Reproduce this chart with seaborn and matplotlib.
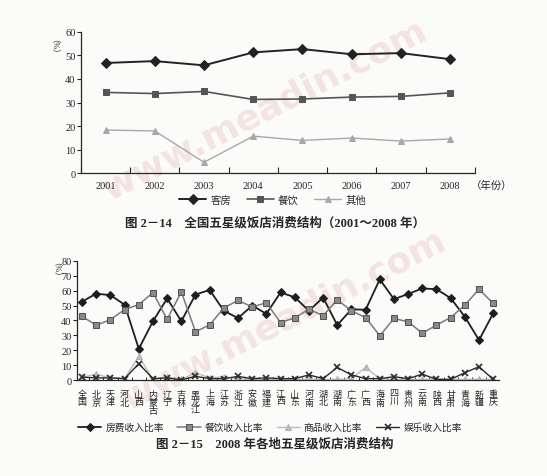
import numpy as np
import matplotlib
matplotlib.use("Agg")
import matplotlib.pyplot as plt
import seaborn as sns

# ---- 图 2-14 数据 ----
years = ["2001", "2002", "2003", "2004", "2005", "2006", "2007", "2008"]
kefang = [46.8, 47.6, 45.8, 51.3, 52.7, 50.5, 51.0, 48.4]
canyin = [34.3, 33.8, 34.7, 31.3, 31.5, 32.3, 32.6, 34.1]
qita = [18.3, 17.9, 4.6, 15.7, 13.9, 14.9, 13.6, 14.5]

# ---- 图 2-15 数据 ----
regions = ["全国", "北京", "天津", "河北", "山西", "内蒙古", "辽宁", "吉林",
           "黑龙江", "上海", "江苏", "浙江", "安徽", "福建", "江西", "山东",
           "河南", "湖北", "湖南", "广东", "广西", "海南", "四川", "贵州",
           "云南", "陕西", "甘肃", "青海", "新疆", "重庆"]
room_rate = [52.7, 58.0, 57.0, 50.6, 21.0, 39.5, 54.8, 39.5, 57.4, 60.5,
             46.5, 41.6, 50.0, 44.5, 58.8, 55.6, 46.5, 55.4, 36.9, 47.5,
             47.2, 67.6, 54.3, 57.8, 61.5, 61.0, 55.0, 42.5, 26.8, 44.8]
food_rate = [42.8, 36.8, 40.6, 47.3, 50.7, 58.7, 40.8, 59.2, 32.5, 37.0,
             48.4, 53.5, 49.1, 51.9, 38.6, 41.8, 47.6, 43.2, 53.9, 46.5,
             42.0, 29.7, 41.4, 39.1, 31.5, 36.9, 42.0, 50.3, 61.0, 51.5]
goods_rate = [2.0, 4.0, 1.5, 1.0, 16.0, 0.5, 2.0, 0.5, 5.0, 1.5,
              2.0, 1.0, 0.5, 0.5, 0.5, 0.5, 0.5, 0.5, 0.5, 1.0,
              8.5, 1.0, 0.5, 0.5, 0.5, 0.5, 0.5, 0.5, 0.5, 0.5]
fun_rate = [2.0, 1.5, 1.5, 1.0, 11.0, 1.0, 1.5, 0.2, 2.5, 1.0,
            1.0, 2.5, 1.0, 1.5, 1.0, 1.0, 3.5, 1.0, 8.5, 3.5,
            1.0, 1.0, 2.3, 1.0, 4.0, 0.5, 0.5, 5.0, 9.0, 0.5]

sns.set_theme(style="ticks")
plt.rcParams["font.family"] = ["Liberation Serif", "Noto Sans CJK SC", "DejaVu Sans"]
plt.rcParams["axes.linewidth"] = 0.9

paper = "#fbfbfa"
fig = plt.figure(figsize=(5.47, 4.77), dpi=100, facecolor=paper)

# 水印（淡色，置于图层最底）
for (wx, wy) in [(0.485, 0.77), (0.52, 0.33)]:
    fig.text(wx, wy, "www.meadin.com", fontsize=26, fontweight="bold",
             family=["DejaVu Sans"], color="#f3e4e2", rotation=27,
             ha="center", va="center", zorder=-5)

# ---------- 上图 ----------
ax1 = fig.add_axes([0.148, 0.635, 0.72, 0.296])
ax1.set_facecolor("none")
xs = np.arange(len(years))
sns.lineplot(x=xs, y=kefang, ax=ax1, color="#222222", marker="D",
             markersize=5, markeredgecolor="#222222", linewidth=1.4, label="客房")
sns.lineplot(x=xs, y=canyin, ax=ax1, color="#555555", marker="s",
             markersize=5, markeredgecolor="#555555", linewidth=1.2, label="餐饮")
sns.lineplot(x=xs, y=qita, ax=ax1, color="#a8a8a8", marker="^",
             markersize=5, markeredgecolor="#a8a8a8", linewidth=1.0, label="其他")
ax1.set_xlim(-0.5, 7.5)
ax1.set_ylim(0, 60)
ax1.set_yticks(range(0, 61, 10))
ax1.set_xticks(xs)
ax1.set_xticklabels(years)
ax1.set_xticks(np.arange(-0.5, 7.6, 1), minor=True)
ax1.tick_params(axis="x", which="major", length=0, labelsize=7.5, pad=6)
ax1.tick_params(axis="x", which="minor", direction="in", length=4, width=0.8)
ax1.tick_params(axis="y", direction="out", length=3, width=0.8, labelsize=7.5, pad=1)
sns.despine(ax=ax1)
ax1.text(0.99, -0.085, "（年份）", transform=ax1.transAxes, fontsize=7.5,
         ha="left", va="center")
ax1.text(-0.078, 0.87, "（%）", transform=ax1.transAxes, fontsize=6,
         rotation=-90, ha="center", va="center")
ax1.legend(loc="center", bbox_to_anchor=(0.487, -0.19), ncol=3,
           frameon=False, fontsize=7.5, handlelength=2.6, columnspacing=1.5,
           handletextpad=0.4)

fig.text(0.503, 0.533, "图 2－14　全国五星级饭店消费结构（2001～2008 年）",
         fontsize=9, fontweight="bold", ha="center", va="center")

# ---------- 下图 ----------
ax2 = fig.add_axes([0.141, 0.201, 0.771, 0.25])
ax2.set_facecolor("none")
rx = np.arange(len(regions))
sns.lineplot(x=rx, y=room_rate, ax=ax2, color="#1e1e1e", marker="D",
             markersize=4.5, markeredgecolor="#1e1e1e", linewidth=1.3,
             label="房费收入比率")
sns.lineplot(x=rx, y=food_rate, ax=ax2, color="#7a7a7a", marker="s",
             markersize=4.5, markerfacecolor="#8a8a8a", markeredgecolor="#555555",
             linewidth=1.1, label="餐饮收入比率")
sns.lineplot(x=rx, y=goods_rate, ax=ax2, color="#bdbdbd", marker="^",
             markersize=4.5, markeredgecolor="#b0b0b0", linewidth=1.0,
             label="商品收入比率")
sns.lineplot(x=rx, y=fun_rate, ax=ax2, color="#2a2a2a", marker="x",
             markersize=5, markeredgewidth=1.2, markeredgecolor="#2a2a2a",
             linewidth=1.0, label="娱乐收入比率")
ax2.set_xlim(-0.35, 29.4)
ax2.set_ylim(0, 80)
ax2.set_yticks(range(0, 81, 10))
ax2.set_xticks(rx)
ax2.set_xticklabels(["\n".join(r) for r in regions], linespacing=0.9)
ax2.set_xticks(np.arange(0.5, 29.4, 1), minor=True)
ax2.tick_params(axis="x", which="major", length=0, labelsize=6.5, pad=7)
ax2.tick_params(axis="x", which="minor", direction="in", length=2.5, width=0.7)
for lbl in ax2.get_xticklabels():
    lbl.set_verticalalignment("top")
ax2.tick_params(axis="y", direction="out", length=3, width=0.8, labelsize=7.5, pad=1)
sns.despine(ax=ax2)
ax2.text(-0.06, 0.9, "（%）", transform=ax2.transAxes, fontsize=6,
         rotation=-90, ha="center", va="center")
ax2.legend(loc="center", bbox_to_anchor=(0.457, -0.395), ncol=4,
           frameon=False, fontsize=7, handlelength=2.4, columnspacing=1.4,
           handletextpad=0.4)

fig.text(0.503, 0.068, "图 2－15　2008 年各地五星级饭店消费结构",
         fontsize=9, fontweight="bold", ha="center", va="center")

fig.savefig("out.png", dpi=100, facecolor=paper)
